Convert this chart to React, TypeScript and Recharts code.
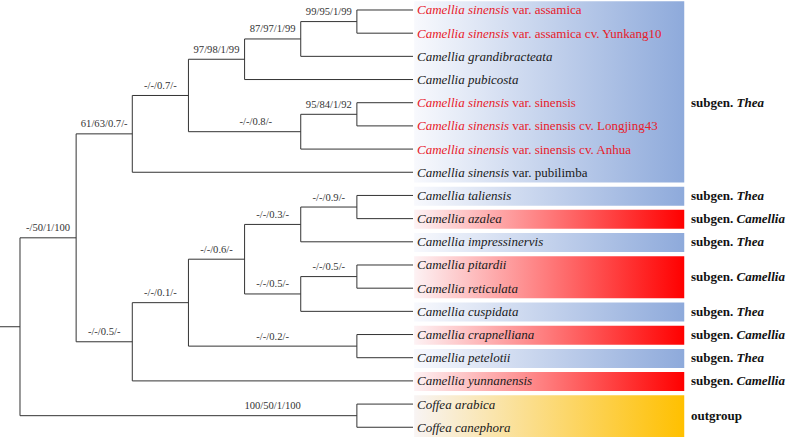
import { ComposedChart, ReferenceArea, ReferenceLine, Scatter, XAxis, YAxis } from 'recharts';

// tip labels: [italic part, plain part]
const leafNames: [string, string][] = [
  ['Camellia sinensis', 'var. assamica'],
  ['Camellia sinensis', 'var. assamica cv. Yunkang10'],
  ['Camellia grandibracteata', ''],
  ['Camellia pubicosta', ''],
  ['Camellia sinensis', 'var. sinensis'],
  ['Camellia sinensis', 'var. sinensis cv. Longjing43'],
  ['Camellia sinensis', 'var. sinensis cv. Anhua'],
  ['Camellia sinensis', 'var. pubilimba'],
  ['Camellia taliensis', ''],
  ['Camellia azalea', ''],
  ['Camellia impressinervis', ''],
  ['Camellia pitardii', ''],
  ['Camellia reticulata', ''],
  ['Camellia cuspidata', ''],
  ['Camellia crapnelliana', ''],
  ['Camellia petelotii', ''],
  ['Camellia yunnanensis', ''],
  ['Coffea arabica', ''],
  ['Coffea canephora', ''],
];

// tea plants highlighted in red
const teaLeaves = [0, 1, 4, 5, 6];

// internal nodes: kids are tip indexes or other node ids
const clades: { id: string; depth: number; support: string; kids: (number | string)[] }[] = [
  { id: 'root', depth: 0, support: '', kids: ['ingroup', 'outgroup'] },
  { id: 'ingroup', depth: 1, support: '-/50/1/100', kids: ['thea', 'mixed'] },
  { id: 'thea', depth: 2, support: '61/63/0.7/-', kids: ['theaCore', 7] },
  { id: 'theaCore', depth: 3, support: '-/-/0.7/-', kids: ['assamGroup', 'sinGroup'] },
  { id: 'assamGroup', depth: 4, support: '97/98/1/99', kids: ['assamGrand', 3] },
  { id: 'assamGrand', depth: 5, support: '87/97/1/99', kids: ['assam', 2] },
  { id: 'assam', depth: 6, support: '99/95/1/99', kids: [0, 1] },
  { id: 'sinGroup', depth: 5, support: '-/-/0.8/-', kids: ['sin', 6] },
  { id: 'sin', depth: 6, support: '95/84/1/92', kids: [4, 5] },
  { id: 'mixed', depth: 2, support: '-/-/0.5/-', kids: ['mixCore', 16] },
  { id: 'mixCore', depth: 3, support: '-/-/0.1/-', kids: ['mixA', 'crapPet'] },
  { id: 'mixA', depth: 4, support: '-/-/0.6/-', kids: ['talGroup', 'pitGroup'] },
  { id: 'talGroup', depth: 5, support: '-/-/0.3/-', kids: ['talAz', 10] },
  { id: 'talAz', depth: 6, support: '-/-/0.9/-', kids: [8, 9] },
  { id: 'pitGroup', depth: 5, support: '-/-/0.5/-', kids: ['pitRet', 13] },
  { id: 'pitRet', depth: 6, support: '-/-/0.5/-', kids: [11, 12] },
  { id: 'crapPet', depth: 6, support: '-/-/0.2/-', kids: [14, 15] },
  { id: 'outgroup', depth: 6, support: '100/50/1/100', kids: [17, 18] },
];

// coloured blocks on the right
const groups: { from: number; to: number; name: string; row?: number }[] = [
  { from: 0, to: 7, name: 'Thea', row: 4 },
  { from: 8, to: 8, name: 'Thea' },
  { from: 9, to: 9, name: 'Camellia' },
  { from: 10, to: 10, name: 'Thea' },
  { from: 11, to: 12, name: 'Camellia' },
  { from: 13, to: 13, name: 'Thea' },
  { from: 14, to: 14, name: 'Camellia' },
  { from: 15, to: 15, name: 'Thea' },
  { from: 16, to: 16, name: 'Camellia' },
  { from: 17, to: 18, name: 'outgroup' },
];

const LEAF_DEPTH = 7;
const X_MIN = -0.356;
const X_MAX = 13.66;
const Y_MIN = -0.431;
const Y_MAX = 18.42;
const BOX_X1 = 7.02;
const BOX_X2 = 11.83;
const SERIF = "'Liberation Serif', 'Times New Roman', serif";
const LINE = '#333';

const gradId: Record<string, string> = { Thea: 'gBlue', Camellia: 'gRed', outgroup: 'gOrange' };

const byId: Record<string, (typeof clades)[number]> = {};
clades.forEach((c) => (byId[c.id] = c));
const parentOf: Record<string, string> = {};
clades.forEach((c) => c.kids.forEach((k) => (parentOf[String(k)] = c.id)));

const depthOf = (k: number | string) => (typeof k === 'number' ? LEAF_DEPTH : byId[k].depth);
const rowOf = (k: number | string): number => {
  if (typeof k === 'number') return k;
  const kids = byId[k].kids;
  return (rowOf(kids[0]) + rowOf(kids[kids.length - 1])) / 2;
};

const segments: { x1: number; y1: number; x2: number; y2: number }[] = [];
segments.push({ x1: X_MIN, y1: rowOf('root'), x2: 0, y2: rowOf('root') });
clades.forEach((c) => {
  const first = c.kids[0];
  const last = c.kids[c.kids.length - 1];
  segments.push({ x1: c.depth, y1: rowOf(first), x2: c.depth, y2: rowOf(last) });
  c.kids.forEach((k) => {
    segments.push({ x1: c.depth, y1: rowOf(k), x2: depthOf(k), y2: rowOf(k) });
  });
});

// support values sit over the branch, near its end on long branches
const supportPoints = clades
  .filter((c) => c.support)
  .map((c) => {
    const len = c.depth - byId[parentOf[c.id]].depth;
    const back = len <= 1 ? 0.5 : len === 2 ? 0.8 : 1.5;
    return { x: c.depth - back, y: rowOf(c.id), text: c.support };
  });

const leafPoints = leafNames.map((n, i) => ({
  x: LEAF_DEPTH + 0.07,
  y: i,
  italic: n[0],
  plain: n[1],
  red: teaLeaves.includes(i),
}));

const groupPoints = groups.map((g) => ({
  x: 11.95,
  y: g.row ?? (g.from + g.to) / 2,
  name: g.name,
}));

const LeafLabel = (props: any) => {
  const { cx, cy, payload } = props;
  return (
    <text
      x={cx}
      y={cy}
      dy={4.5}
      fontFamily={SERIF}
      fontSize={13}
      fill={payload.red ? '#e8202a' : '#1a1a1a'}
      style={{ whiteSpace: 'pre' }}
    >
      <tspan fontStyle="italic">{payload.italic}</tspan>
      {payload.plain ? <tspan>{' ' + payload.plain}</tspan> : null}
    </text>
  );
};

const SupportLabel = (props: any) => {
  const { cx, cy, payload } = props;
  return (
    <text x={cx} y={cy - 6.5} textAnchor="middle" fontFamily={SERIF} fontSize={10.6} fill="#333">
      {payload.text}
    </text>
  );
};

const GroupLabel = (props: any) => {
  const { cx, cy, payload } = props;
  return (
    <text x={cx} y={cy} dy={4.5} fontFamily={SERIF} fontSize={13} fontWeight="bold" fill="#111" style={{ whiteSpace: 'pre' }}>
      {payload.name === 'outgroup' ? (
        'outgroup'
      ) : (
        <>
          <tspan>subgen. </tspan>
          <tspan fontStyle="italic">{payload.name}</tspan>
        </>
      )}
    </text>
  );
};

export default function App() {
  return (
    <div style={{ position: 'absolute', left: 0, top: 0 }}>
      <ComposedChart width={787} height={437} margin={{ top: 0, right: 0, bottom: 0, left: 0 }}>
        <defs>
          <linearGradient id="gBlue" x1="0" y1="0" x2="1" y2="0">
            <stop offset="0%" stopColor="#f8f9fd" />
            <stop offset="100%" stopColor="#8eaadb" />
          </linearGradient>
          <linearGradient id="gRed" x1="0" y1="0" x2="1" y2="0">
            <stop offset="0%" stopColor="#fdf2f4" />
            <stop offset="100%" stopColor="#ff0000" />
          </linearGradient>
          <linearGradient id="gOrange" x1="0" y1="0" x2="1" y2="0">
            <stop offset="0%" stopColor="#f8f4f4" />
            <stop offset="100%" stopColor="#ffc000" />
          </linearGradient>
        </defs>
        <XAxis type="number" dataKey="x" domain={[X_MIN, X_MAX]} hide allowDataOverflow />
        <YAxis type="number" dataKey="y" domain={[Y_MIN, Y_MAX]} reversed hide allowDataOverflow />
        {groups.map((g, i) => (
          <ReferenceArea
            key={'g' + i}
            x1={BOX_X1}
            x2={BOX_X2}
            y1={g.from - 0.38}
            y2={g.to + 0.44}
            fill={`url(#${gradId[g.name]})`}
            fillOpacity={1}
            stroke="none"
            ifOverflow="visible"
          />
        ))}
        {segments.map((s, i) => (
          <ReferenceLine
            key={'s' + i}
            segment={[
              { x: s.x1, y: s.y1 },
              { x: s.x2, y: s.y2 },
            ]}
            stroke={LINE}
            strokeWidth={1}
            ifOverflow="visible"
          />
        ))}
        <Scatter data={leafPoints} shape={LeafLabel} isAnimationActive={false} />
        <Scatter data={supportPoints} shape={SupportLabel} isAnimationActive={false} />
        <Scatter data={groupPoints} shape={GroupLabel} isAnimationActive={false} />
      </ComposedChart>
    </div>
  );
}
